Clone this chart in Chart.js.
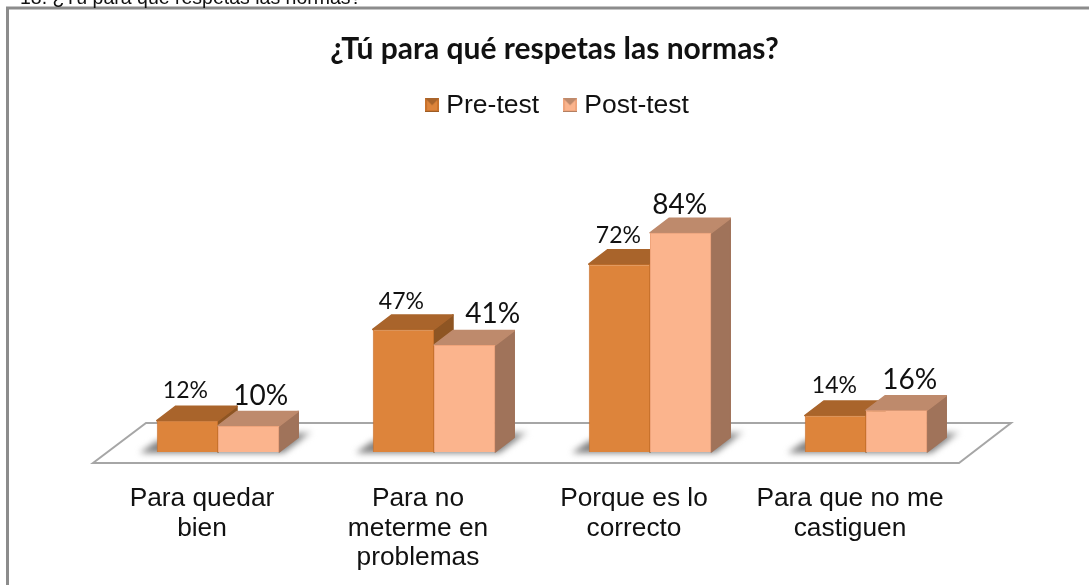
<!DOCTYPE html>
<html lang="es">
<head>
<meta charset="utf-8">
<style>html,body{margin:0;padding:0;background:#fff;overflow:hidden}canvas{display:block}</style>
<script src="https://cdn.jsdelivr.net/npm/chart.js@4/dist/chart.umd.min.js"></script>
</head>
<body>
<canvas id="c" width="1089" height="585"></canvas>
<script>
const categories = [["Para quedar","bien"],["Para no","meterme en","problemas"],["Porque es lo","correcto"],["Para que no me","castiguen"]];
const preTest = [12,47,72,14];
const postTest = [10,41,84,16];
const seriesNames = ["Pre-test","Post-test"];
const titleText = "¿Tú para qué respetas las normas?";
const headingText = "18. ¿Tú para qué respetas las normas?";

const SANS = '"Liberation Sans", Arial, sans-serif';
const LATO = 'Lato, sans-serif';
const faces = [
  {front:'#DD843B',edge:'#C8722C',top:'#A9642B',side:'#8E5523',labelFont:'23px '+LATO,dx:[-2,-2,-1,-1],dy:[-30,-28,-29,-30]},
  {front:'#FBB48D',edge:'#EFA47B',top:'#BE8A6C',side:'#A0735A',labelFont:'28px '+LATO,dx:[12,28,-1,13],dy:[-30,-31,-28,-30]}
];
const DEPTH_X = 19, DEPTH_Y = 14.5;

function marker(f){
  const c=document.createElement('canvas');c.width=14;c.height=14;
  const g=c.getContext('2d');
  g.fillStyle=f.edge;g.fillRect(0,0,14,14);
  g.fillStyle=f.front;g.fillRect(2,2,10,10);
  g.fillStyle=f.top;g.beginPath();g.moveTo(0,0);g.lineTo(14,0);g.lineTo(7,7);g.closePath();g.fill();
  g.fillStyle=f.side;g.fillRect(0,13,14,1);
  return c;
}

function drawDepth(chart,d){
  const {ctx,scales:{y}}=chart,base=y.getPixelForValue(0),f=faces[d];
  ctx.save();ctx.lineJoin='round';ctx.lineWidth=1.5;
  chart.getDatasetMeta(d).data.forEach(b=>{
    const l=b.x-b.width/2,r=b.x+b.width/2;
    ctx.fillStyle=f.side;ctx.strokeStyle=f.side;ctx.beginPath();ctx.moveTo(r,b.y);ctx.lineTo(r+DEPTH_X,b.y-DEPTH_Y);ctx.lineTo(r+DEPTH_X,base-DEPTH_Y);ctx.lineTo(r,base);ctx.closePath();ctx.fill();ctx.stroke();
    ctx.fillStyle=f.top;ctx.strokeStyle=f.top;ctx.beginPath();ctx.moveTo(l,b.y);ctx.lineTo(l+DEPTH_X,b.y-DEPTH_Y);ctx.lineTo(r+DEPTH_X,b.y-DEPTH_Y);ctx.lineTo(r,b.y);ctx.closePath();ctx.fill();ctx.stroke();
  });
  ctx.restore();
}

const scene = {
  id:'scene',
  afterLayout(chart){
    const t=chart.titleBlock,l=chart.legend;
    t.left+=12.5;t.right+=12.5;
    l.left+=18;l.right+=18;
  },
  beforeDraw(chart){
    const {ctx,chartArea:a,scales:{y}}=chart,base=y.getPixelForValue(0);
    ctx.save();
    ctx.fillStyle='#fff';ctx.fillRect(0,0,chart.width,chart.height);
    ctx.strokeStyle='#8c8c8c';ctx.lineWidth=3;
    ctx.beginPath();ctx.moveTo(7.5,chart.height);ctx.lineTo(7.5,8);ctx.lineTo(chart.width,8);ctx.stroke();
    ctx.fillStyle='#111';ctx.font='19.5px '+SANS;ctx.textBaseline='alphabetic';ctx.textAlign='left';
    ctx.fillText(headingText,20,3.5);
    ctx.strokeStyle='#a6a6a6';ctx.lineWidth=2;ctx.fillStyle='#fff';
    ctx.beginPath();
    ctx.moveTo(a.left-17,base+11);ctx.lineTo(a.left+36,base-29);ctx.lineTo(a.right+37,base-29);ctx.lineTo(a.right-15,base+11);ctx.closePath();
    ctx.fill();ctx.stroke();
    ctx.restore();
  },
  beforeDatasetsDraw(chart){
    const {ctx,scales:{y}}=chart,base=y.getPixelForValue(0);
    const m0=chart.getDatasetMeta(0).data,m1=chart.getDatasetMeta(1).data;
    ctx.save();ctx.filter='blur(3px)';
    m0.forEach((b,i)=>{
      const l=b.x-b.width/2,r=m1[i].x+m1[i].width/2;
      const g=ctx.createLinearGradient(r,0,r+DEPTH_X+16,0);
      g.addColorStop(0,'#808080');g.addColorStop(0.55,'#8a8a8a');g.addColorStop(1,'#d8d8d8');
      ctx.fillStyle=g;
      ctx.beginPath();ctx.moveTo(l-17,base+1);ctx.lineTo(l,base-11);ctx.lineTo(r+DEPTH_X+14,base-20);ctx.lineTo(r+4,base+1);ctx.closePath();ctx.fill();
    });
    ctx.restore();
  },
  beforeDatasetDraw(chart,args){
    if(args.index===0) drawDepth(chart,0);
  },
  afterDatasetsDraw(chart){
    const {ctx}=chart;
    drawDepth(chart,1);
    chart.getDatasetMeta(1).data.forEach(b=>b.draw(ctx));
    ctx.save();ctx.textAlign='center';ctx.textBaseline='middle';ctx.fillStyle='#111';
    chart.data.datasets.forEach((ds,d)=>{
      const f=faces[d];ctx.font=f.labelFont;
      chart.getDatasetMeta(d).data.forEach((b,i)=>{
        ctx.fillText(ds.data[i]+'%',b.x+f.dx[i],b.y+f.dy[i]);
      });
    });
    ctx.restore();
  }
};

new Chart(document.getElementById('c'),{
  type:'bar',
  data:{labels:categories,datasets:[
    {label:seriesNames[0],data:preTest,backgroundColor:faces[0].front,borderColor:faces[0].edge,borderWidth:1,pointStyle:marker(faces[0])},
    {label:seriesNames[1],data:postTest,backgroundColor:faces[1].front,borderColor:faces[1].edge,borderWidth:1,pointStyle:marker(faces[1])}
  ]},
  options:{
    responsive:false,animation:false,devicePixelRatio:1,
    events:[],
    layout:{padding:{left:110,right:115,top:31,bottom:0}},
    datasets:{bar:{barPercentage:1,categoryPercentage:0.567}},
    scales:{
      x:{grid:{display:false},border:{display:false},
        afterFit(s){s.height=133;},
        ticks:{autoSkip:false,maxRotation:0,minRotation:0,padding:24,labelOffset:-16,color:'#111',font:{family:SANS,size:26.3,lineHeight:'29.5px'}}},
      y:{display:false,min:0,max:124}
    },
    plugins:{
      tooltip:{enabled:false},
      title:{display:true,text:titleText,color:'#111',font:{family:LATO,size:30,weight:'bold'},padding:{top:0,bottom:-5}},
      legend:{position:'top',labels:{usePointStyle:true,boxWidth:2,boxHeight:14,padding:30,color:'#111',font:{family:SANS,size:26.5}}}
    }
  },
  plugins:[scene]
});
</script>
</body>
</html>
